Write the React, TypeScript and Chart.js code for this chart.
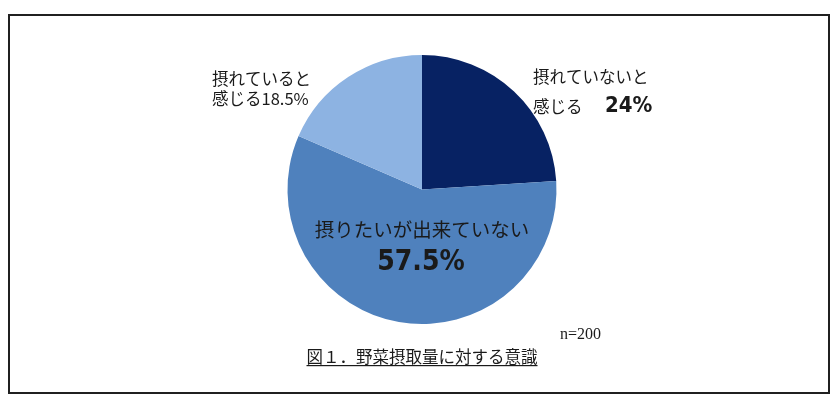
import React, { useEffect, useRef } from 'react';
import { Chart, registerables, Plugin } from 'chart.js';

Chart.register(...registerables);

// categories (clockwise from 12 o'clock) and their shares in %
const categories = ['摂れていないと感じる', '摂りたいが出来ていない', '摂れていると感じる'];
const shares = [24, 57.5, 18.5];
const sliceColors = ['#072263', '#4f81bd', '#8db3e2'];

const sampleNote = 'n=200';
const caption = '図１．野菜摂取量に対する意識';

const JP = '"Noto Sans CJK JP", "Noto Sans", sans-serif';
const NUM = '"DejaVu Sans Condensed", "Liberation Sans Narrow", sans-serif';

const annotations: Plugin<'pie'> = {
    id: 'annotations',
    beforeDraw(chart) {
        const ctx = chart.ctx;
        ctx.save();
        ctx.fillStyle = '#ffffff';
        ctx.fillRect(0, 0, chart.width, chart.height);
        ctx.strokeStyle = '#202020';
        ctx.lineWidth = 2;
        ctx.strokeRect(9, 15, 820, 378);
        ctx.restore();
    },
    afterDraw(chart) {
        const ctx = chart.ctx;
        const pct = (i: number) => `${shares[i]}%`;
        ctx.save();
        ctx.fillStyle = '#1a1a1a';
        ctx.textBaseline = 'middle';

        // 摂れていると感じる (light slice, left outside)
        ctx.textAlign = 'left';
        ctx.font = `16.5px ${JP}`;
        ctx.fillText(categories[2].slice(0, 6), 212, 79);
        ctx.fillText(categories[2].slice(6) + pct(2), 212, 99);

        // 摂れていないと感じる (dark slice, right outside)
        ctx.fillText(categories[0].slice(0, 7), 533, 77);
        ctx.fillText(categories[0].slice(7), 533, 107);
        ctx.font = `bold 22px ${NUM}`;
        ctx.fillText(pct(0), 605, 106);

        // 摂りたいが出来ていない (big slice, inside)
        ctx.textAlign = 'center';
        ctx.font = `19.5px ${JP}`;
        ctx.fillText(categories[1], 422, 230);
        ctx.font = `bold 28px ${NUM}`;
        ctx.fillText(pct(1), 421, 263);

        // sample size
        ctx.textAlign = 'left';
        ctx.font = '16px "Liberation Serif", serif';
        ctx.fillText(sampleNote, 560, 335);

        // caption with underline
        ctx.textAlign = 'center';
        ctx.font = `16.5px ${JP}`;
        ctx.fillText(caption, 422, 357);
        const w = ctx.measureText(caption).width;
        ctx.fillRect(422 - w / 2, 365, w, 1.2);
        ctx.restore();
    },
};

const App: React.FC = () => {
    const chartRef = useRef<HTMLCanvasElement | null>(null);

    useEffect(() => {
        const ctx = chartRef.current?.getContext('2d');

        if (!ctx) {
            return;
        }

        const myChart = new Chart(ctx, {
            type: 'pie',
            data: {
                labels: categories,
                datasets: [
                    {
                        data: shares,
                        backgroundColor: sliceColors,
                        borderWidth: 0,
                    },
                ],
            },
            options: {
                responsive: false,
                animation: false,
                layout: {
                    padding: { top: 55, bottom: 84, left: 287, right: 283 },
                },
                plugins: {
                    legend: { display: false },
                    tooltip: { enabled: false },
                },
            },
            plugins: [annotations],
        });

        return () => {
            myChart.destroy();
        };
    }, []);

    return (
        <div style={{ position: 'absolute', left: 0, top: 0, width: 840, height: 408 }}>
            <canvas ref={chartRef} width={840} height={408} />
        </div>
    );
};

export default App;
